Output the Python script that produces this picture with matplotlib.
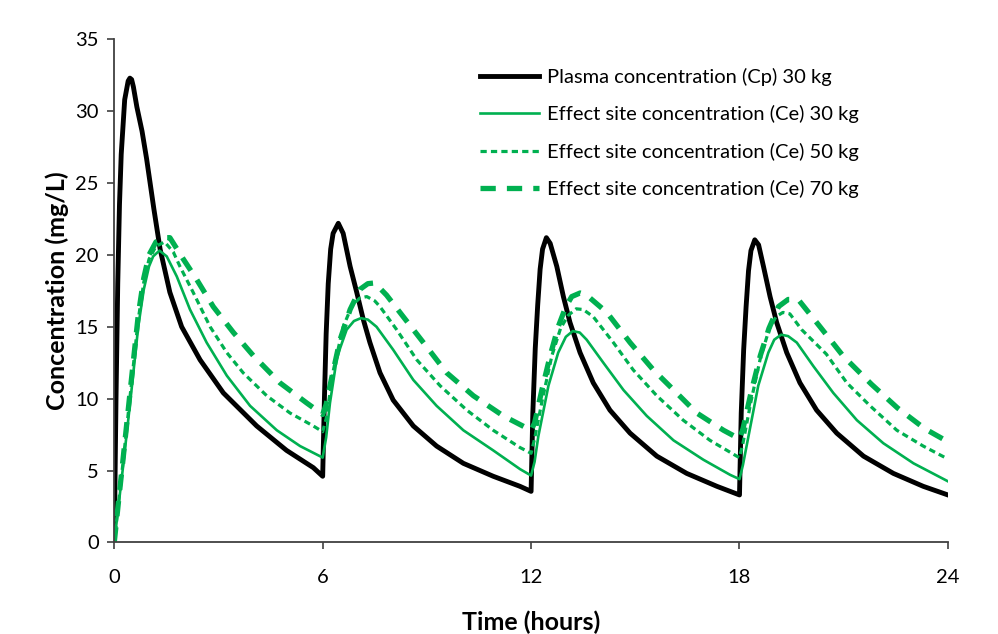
import matplotlib
matplotlib.use("Agg")
import matplotlib.pyplot as plt

plt.rcParams['font.family'] = ['Lato', 'DejaVu Sans']
plt.rcParams['lines.scale_dashes'] = False

# Plasma concentration (Cp) 30 kg
cp_t = [0, 0.05, 0.1, 0.15, 0.2, 0.3, 0.4, 0.45, 0.5, 0.55, 0.65, 0.8, 0.93, 1.14, 1.32, 1.6, 1.94, 2.47, 3.14, 4.1, 4.96, 5.73, 6.0,
        6.05, 6.1, 6.16, 6.23, 6.3, 6.45, 6.59, 6.79, 6.98, 7.17, 7.36, 7.65, 8.03, 8.61, 9.28, 10.05, 10.91, 11.68, 12.0,
        12.05, 12.12, 12.19, 12.26, 12.33, 12.44, 12.55, 12.74, 12.93, 13.12, 13.41, 13.79, 14.27, 14.85, 15.62, 16.48, 17.35, 18.0,
        18.05, 18.12, 18.19, 18.26, 18.33, 18.44, 18.55, 18.69, 18.88, 19.07, 19.36, 19.74, 20.22, 20.8, 21.57, 22.43, 23.29, 24.0]
cp_c = [0, 10, 18, 23.5, 27, 30.8, 32.1, 32.3, 32.2, 31.7, 30.3, 28.6, 26.7, 23.2, 20.4, 17.4, 15.0, 12.7, 10.4, 8.1, 6.4, 5.2, 4.6,
        10, 14.5, 18, 20.4, 21.5, 22.2, 21.5, 19.2, 17.4, 15.5, 13.9, 11.8, 9.9, 8.1, 6.7, 5.5, 4.6, 3.9, 3.55,
        9, 13.5, 16.5, 19.0, 20.4, 21.2, 20.8, 19.2, 17.1, 15.3, 13.2, 11.1, 9.2, 7.6, 6.0, 4.8, 3.9, 3.3,
        9, 13.4, 16.4, 18.9, 20.3, 21.05, 20.7, 19.2, 17.1, 15.3, 13.2, 11.1, 9.2, 7.6, 6.0, 4.8, 3.9, 3.3]

# Effect site concentration (Ce) 30 kg
ce30_t = [0, 0.12, 0.24, 0.47, 0.69, 0.85, 1.0, 1.12, 1.3, 1.51, 1.8, 2.18, 2.66, 3.24, 3.91, 4.68, 5.35, 6.0,
          6.1, 6.21, 6.4, 6.5, 6.69, 6.9, 7.1, 7.3, 7.55, 8.03, 8.61, 9.28, 10.05, 10.91, 11.68, 12.0,
          12.1, 12.21, 12.5, 12.78, 13.0, 13.2, 13.4, 13.6, 14.08, 14.66, 15.33, 16.1, 16.96, 17.73, 18.0,
          18.1, 18.26, 18.54, 18.83, 19.0, 19.2, 19.4, 19.65, 20.13, 20.7, 21.38, 22.14, 23.01, 24.0]
ce30_c = [0, 2.5, 5, 10, 15, 17.6, 19.2, 19.9, 20.3, 19.9, 18.5, 16.2, 13.9, 11.6, 9.5, 7.8, 6.7, 5.9,
          7.3, 9.7, 12.7, 13.5, 14.8, 15.4, 15.6, 15.5, 15.0, 13.4, 11.3, 9.5, 7.8, 6.4, 5.1, 4.65,
          5.6, 7.4, 10.9, 13.2, 14.3, 14.7, 14.6, 14.1, 12.5, 10.6, 8.8, 7.1, 5.75, 4.7, 4.4,
          5.4, 7.4, 10.9, 13.2, 14.1, 14.45, 14.35, 13.9, 12.25, 10.4, 8.5, 6.9, 5.5, 4.25]

# Effect site concentration (Ce) 50 kg
ce50_t = [0, 0.12, 0.24, 0.47, 0.69, 0.85, 1.0, 1.2, 1.45, 1.7, 1.89, 2.27, 2.76, 3.24, 3.71, 4.39, 5.06, 5.73, 6.0,
          6.1, 6.31, 6.59, 6.85, 7.07, 7.27, 7.5, 7.65, 8.13, 8.71, 9.38, 10.15, 10.91, 11.68, 12.0,
          12.1, 12.33, 12.6, 12.85, 13.07, 13.3, 13.5, 13.79, 14.37, 14.94, 15.62, 16.38, 17.15, 17.92, 18.0,
          18.1, 18.33, 18.6, 18.85, 19.05, 19.25, 19.45, 19.79, 20.5, 21.09, 21.76, 22.53, 23.29, 24.0]
ce50_c = [0, 2.7, 5.3, 10.5, 15.5, 18.1, 19.7, 20.6, 20.9, 20.2, 19.2, 17.4, 15.0, 13.2, 11.8, 10.2, 9.0, 8.1, 7.7,
          8.6, 12.0, 15.0, 16.5, 17.0, 17.1, 16.8, 16.4, 14.8, 12.7, 10.9, 9.2, 7.8, 6.6, 6.2,
          7.2, 10.0, 13.0, 14.9, 15.8, 16.25, 16.2, 15.7, 13.9, 12.0, 10.2, 8.5, 7.1, 6.0, 5.9,
          6.9, 9.8, 12.8, 14.8, 15.7, 16.0, 15.9, 14.8, 13.1, 11.1, 9.5, 7.8, 6.7, 5.8]

# Effect site concentration (Ce) 70 kg
ce70_t = [0, 0.12, 0.24, 0.47, 0.69, 0.85, 1.0, 1.2, 1.45, 1.6, 1.99, 2.37, 2.85, 3.43, 4.0, 4.77, 5.54, 6.0,
          6.1, 6.21, 6.5, 6.79, 7.07, 7.3, 7.5, 7.84, 8.32, 8.9, 9.57, 10.34, 11.2, 12.0,
          12.1, 12.31, 12.55, 12.78, 13.0, 13.17, 13.41, 13.6, 14.18, 14.85, 15.52, 16.19, 16.77, 17.54, 18.0,
          18.1, 18.33, 18.6, 18.85, 19.12, 19.4, 19.69, 20.32, 20.99, 21.8, 22.55, 23.34, 24.0]
ce70_c = [0, 2.8, 5.5, 10.8, 15.8, 18.4, 20.0, 20.9, 21.2, 21.2, 19.7, 18.3, 16.4, 14.6, 13.0, 11.1, 9.7, 8.9,
          9.6, 10.9, 14.1, 16.2, 17.6, 18.0, 18.05, 17.2, 15.7, 13.9, 11.8, 10.2, 8.8, 7.8,
          8.3, 10.6, 13.0, 15.0, 16.4, 17.1, 17.35, 17.2, 16.0, 13.9, 12.0, 10.4, 9.0, 7.8, 7.2,
          7.9, 10.4, 13.0, 14.9, 16.4, 16.9, 16.9, 15.0, 12.95, 11.0, 9.35, 7.9, 7.0]

labels = ["Plasma concentration (Cp) 30 kg",
          "Effect site concentration (Ce) 30 kg",
          "Effect site concentration (Ce) 50 kg",
          "Effect site concentration (Ce) 70 kg"]
x_ticks = [0, 6, 12, 18, 24]
y_ticks = [0, 5, 10, 15, 20, 25, 30, 35]

GREEN = "#00B050"

fig = plt.figure(figsize=(9.98, 6.34), dpi=100)
ax = fig.add_axes([0.1145, 0.1445, 0.8353, 0.7935])

ax.plot(cp_t, cp_c, color="black", lw=3.5, solid_joinstyle="round", label=labels[0])
ax.plot(ce30_t, ce30_c, color=GREEN, lw=1.9, label=labels[1])
ax.plot(ce50_t, ce50_c, color=GREEN, lw=2.3, dashes=(4.5, 3.0), label=labels[2])
ax.plot(ce70_t, ce70_c, color=GREEN, lw=3.8, dashes=(11, 8), label=labels[3])

ax.set_xlim(0, 24)
ax.set_ylim(0, 35)
ax.set_xticks(x_ticks)
ax.set_yticks(y_ticks)
for s in ["top", "right"]:
    ax.spines[s].set_visible(False)
for s in ["left", "bottom"]:
    ax.spines[s].set_color("#404040")
    ax.spines[s].set_linewidth(1.3)
ax.tick_params(axis="both", direction="out", length=5, width=1.2, color="#404040",
               labelsize=14.5, labelcolor="black")
ax.tick_params(axis="x", pad=14)
ax.tick_params(axis="y", pad=6)

ax.set_xlabel("Time (hours)", fontsize=18, fontweight="bold", labelpad=18)
ax.set_ylabel("Concentration (mg/L)", fontsize=18, fontweight="bold", labelpad=5)

leg = ax.legend(loc="upper left", bbox_to_anchor=(0.417, 0.98), frameon=False,
                fontsize=14.5, handlelength=2.95, handletextpad=0.4, labelspacing=0.97)

fig.savefig("out.png", dpi=100)
